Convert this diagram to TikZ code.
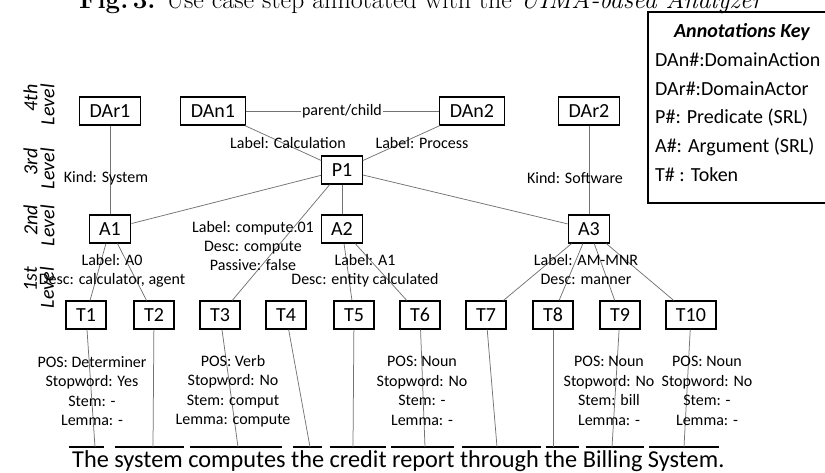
\documentclass[tikz,border=0pt]{standalone}
\usepackage{fontspec}
\setsansfont{Carlito}
\begin{document}
\begin{tikzpicture}[x=1pt,y=-1pt,
  box/.style={draw, line width=1.2pt, font=\sffamily\fontsize{20}{24}\selectfont,
              minimum height=28pt, inner xsep=10pt, inner ysep=0pt},
  link/.style={draw=black!55, line width=0.75pt},
  uline/.style={draw=black, line width=1.1pt},
  lbl/.style={font=\sffamily\fontsize{16}{19}\selectfont, align=center, inner sep=0pt},
  attr/.style={font=\sffamily\fontsize{16}{19.5}\selectfont, align=center, inner sep=0pt},
  lvl/.style={font=\sffamily\itshape\fontsize{20}{17}\selectfont, align=right,
              rotate=90, anchor=east, inner sep=0pt},
  keytext/.style={font=\sffamily\fontsize{20}{24}\selectfont, anchor=west, inner sep=0pt}]

\clip (0,0) rectangle (825,472);
\useasboundingbox (0,0) rectangle (825,472);

% caption line at the top
\node[anchor=base west, inner sep=0pt, font=\fontsize{26}{30}\selectfont] (title) at (79,8)
  {\textbf{Fig.\,3.} Use case step annotated with the \textit{UIMA-based Analyzer}};

% key
\draw[line width=1.2pt] (648,12) rectangle (840,203);
\node[font=\sffamily\bfseries\itshape\fontsize{20}{24}\selectfont, inner sep=0pt] (keyhead) at (742,32) {Annotations Key};
\node[keytext] (k1) at (655,60)  {DAn\#:DomainAction};
\node[keytext] (k2) at (655,89)  {DAr\#:DomainActor};
\node[keytext] (k3) at (655,118) {P\#: Predicate (SRL)};
\node[keytext] (k4) at (655,147) {A\#: Argument (SRL)};
\node[keytext] (k5) at (655,175) {T\# : Token};

% level captions (text tops aligned)
\node[lvl] (lv4) at (39,84)  {4th\\Level};
\node[lvl] (lv3) at (39,148) {3rd\\Level};
\node[lvl] (lv2) at (39,205) {2nd\\Level};
\node[lvl] (lv1) at (39,267) {1st\\Level};

% domain level
\node[box] (DAr1) at (110,111) {DAr1};
\node[box] (DAn1) at (213,111) {DAn1};
\node[box] (DAn2) at (472,111) {DAn2};
\node[box] (DAr2) at (589,111) {DAr2};

% predicate and arguments
\node[box] (P1) at (342,170) {P1};
\node[box] (A1) at (110,229) {A1};
\node[box] (A2) at (342,229) {A2};
\node[box] (A3) at (589,229) {A3};

% tokens
\node[box] (T1)  at (86,315)  {T1};
\node[box] (T2)  at (154,315) {T2};
\node[box] (T3)  at (220,315) {T3};
\node[box] (T4)  at (286,315) {T4};
\node[box] (T5)  at (354,315) {T5};
\node[box] (T6)  at (420,315) {T6};
\node[box] (T7)  at (486,315) {T7};
\node[box] (T8)  at (553,315) {T8};
\node[box] (T9)  at (620,315) {T9};
\node[box] (T10) at (691,315) {T10};

% sentence and word underlines
\node[anchor=base west, inner sep=0pt, font=\sffamily\fontsize{24.3}{28}\selectfont] (sent) at (72,467)
  {The system computes the credit report through the Billing System.};
\foreach \a/\b in {69/104,115/184,190/282,293/322,330/386,391/454,462/541,546/579,586/644,649/719}
  \draw[uline] (\a,447) -- (\b,447);
\coordinate (w1)  at (95,447);
\coordinate (w2)  at (153,447);
\coordinate (w3)  at (238,447);
\coordinate (w4)  at (310,447);
\coordinate (w5)  at (353,447);
\coordinate (w6)  at (425,447);
\coordinate (w7)  at (497,447);
\coordinate (w8)  at (553,447);
\coordinate (w9)  at (612,447);
\coordinate (w10) at (684,447);

% connectors
\node[lbl, inner xsep=1pt] (pc) at (342,111) {parent/child};
\draw[link] (DAn1) -- (pc) -- (DAn2);
\draw[link] (DAr1) -- (A1);
\draw[link] (DAr2) -- (A3);
\draw[link] (DAn1) -- (P1);
\draw[link] (DAn2) -- (P1);
\draw[link] (P1) -- (A1);
\draw[link] (P1) -- (A2);
\draw[link] (P1) -- (A3);
\draw[link] (P1) -- (T3);
\draw[link] (A1) -- (T1);
\draw[link] (A1) -- (T2);
\draw[link] (A2) -- (T5);
\draw[link] (A2) -- (T6);
\draw[link] (A3) -- (T7);
\draw[link] (A3) -- (T8);
\draw[link] (A3) -- (T9);
\draw[link] (A3) -- (T10);
\foreach \i in {1,...,10}
  \draw[link] (T\i) -- (w\i);

% edge labels
\node[lbl] (l1) at (106,178) {Kind: System};
\node[lbl] (l2) at (575,178) {Kind: Software};
\node[lbl] (l3) at (288,143) {Label: Calculation};
\node[lbl] (l4) at (422,143) {Label: Process};
\node[lbl] (l5) at (253,246) {Label: compute.01\\Desc: compute\\Passive: false};
\node[lbl] (l6) at (112,271) {Label: A0\\Desc: calculator, agent};
\node[lbl] (l7) at (365,271) {Label: A1\\Desc: entity calculated};
\node[lbl] (l8) at (586,270) {Label: AM-MNR\\Desc: manner};

% token attributes
\node[attr] (m1)  at (92,391)  {POS: Determiner\\Stopword: Yes\\Stem: -\\Lemma: -};
\node[attr] (m3)  at (233,391) {POS: Verb\\Stopword: No\\Stem: comput\\Lemma: compute};
\node[attr] (m6)  at (422,391) {POS: Noun\\Stopword: No\\Stem: -\\Lemma: -};
\node[attr] (m9)  at (609,391) {POS: Noun\\Stopword: No\\Stem: bill\\Lemma: -};
\node[attr] (m10) at (707,391) {POS: Noun\\Stopword: No\\Stem: -\\Lemma: -};
\end{tikzpicture}
\end{document}
